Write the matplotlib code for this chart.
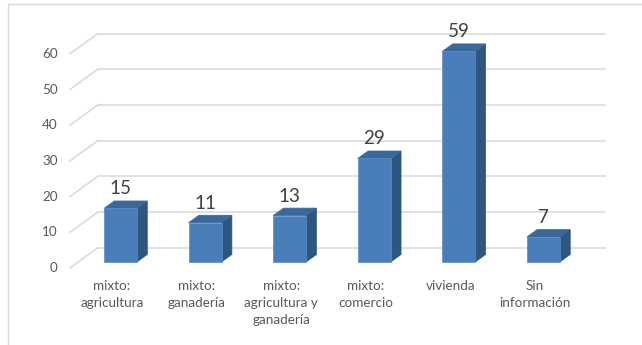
import matplotlib
matplotlib.use('Agg')
import matplotlib.pyplot as plt
from matplotlib.patches import Polygon, Rectangle

plt.rcParams['font.family'] = ['Lato', 'DejaVu Sans']

# Data
categories = ["mixto:\nagricultura", "mixto:\nganadería", "mixto:\nagricultura y\nganadería",
              "mixto:\ncomercio", "vivienda", "Sin\ninformación"]
values = [15, 11, 13, 29, 59, 7]
y_ticks = [0, 10, 20, 30, 40, 50, 60]

# Colours for the faces of the 3D columns
FRONT = '#4a7ebb'
TOP = '#3a6899'
SIDE = '#2e5780'
GRID = '#d9d9d9'

# Fake 3D: depth t runs from 0 (front of floor) to 1 (back wall).
# The bar fronts sit at t = 0.3, which is the plane the axes' data coords describe.
DX = 0.331   # category units per full depth
DY = 5.68    # value units per full depth
T_FRONT = 0.3
BAR_DEPTH = 0.37
BAR_W = 0.39


def shift(c, v, t):
    return (c + (t - T_FRONT) * DX, v + (t - T_FRONT) * DY)


fig = plt.figure(figsize=(6.42, 3.45), dpi=100)
ax = fig.add_axes([0, 0, 1, 1])
ax.set_xlim(-1.424, 6.166)
ax.set_ylim(-23.25, 73.4)
ax.axis('off')

# outer frame
fig.add_artist(Rectangle((8 / 642, -0.05), 1.0, 1.05 - 4 / 345,
                         transform=fig.transFigure, fill=False,
                         edgecolor='#d9d9d9', linewidth=1))

n = len(categories)
left, right = -0.5, n - 0.5

# walls: back gridlines and slanted side lines, plus tick labels
for v in y_ticks:
    x0, y0 = shift(left, v, 1)
    x1, y1 = shift(right, v, 1)
    ax.plot([x0, x1], [y0, y1], color=GRID, linewidth=1.1, zorder=1)
    fx, fy = shift(left, v, 0)
    ax.plot([fx, x0], [fy, y0], color=GRID, linewidth=1.1, zorder=1)
    ax.annotate(str(v), (fx, fy), xytext=(-12, 0), textcoords='offset pixels',
                ha='right', va='center', fontsize=9.7, color='#595959')

# columns
for i, v in enumerate(values):
    xl, xr = i - BAR_W / 2, i + BAR_W / 2
    t0, t1 = T_FRONT, T_FRONT + BAR_DEPTH
    front = [shift(xl, 0, t0), shift(xr, 0, t0), shift(xr, v, t0), shift(xl, v, t0)]
    side = [shift(xr, 0, t0), shift(xr, 0, t1), shift(xr, v, t1), shift(xr, v, t0)]
    top = [shift(xl, v, t0), shift(xr, v, t0), shift(xr, v, t1), shift(xl, v, t1)]
    ax.add_patch(Polygon(side, closed=True, facecolor=SIDE, edgecolor=SIDE, linewidth=0.5, zorder=3))
    ax.add_patch(Polygon(top, closed=True, facecolor=TOP, edgecolor=TOP, linewidth=0.5, zorder=3))
    ax.add_patch(Polygon(front, closed=True, facecolor=FRONT, edgecolor='#5a8ccb', linewidth=0.5, zorder=4))
    ax.annotate(str(v), (i, v), xytext=(0, 11), textcoords='offset pixels',
                ha='center', va='bottom', fontsize=13.5, color='#404040')

# category labels along the front of the floor
for i, lab in enumerate(categories):
    cx, cy = shift(i, 0, 0)
    ax.annotate(lab, (cx, cy), xytext=(0, -12), textcoords='offset pixels',
                ha='center', va='top', fontsize=9.7, color='#595959', linespacing=1.5)

fig.savefig('out.png', dpi=100)
